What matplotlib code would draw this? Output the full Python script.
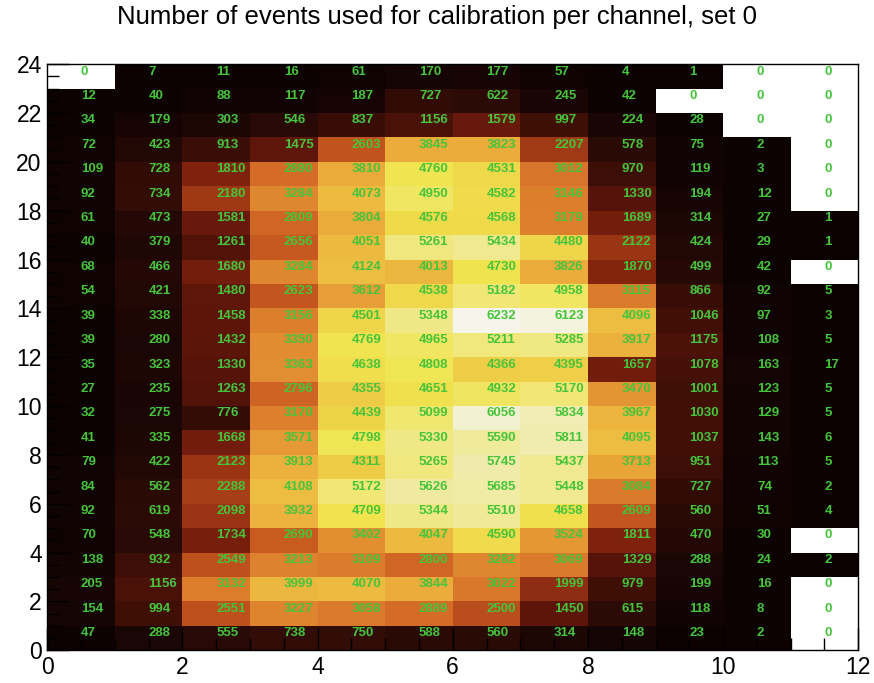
"""
Calibration event counts per channel, set 0 (ROOT-style COLZ TEXT heatmap).
"""
import matplotlib
matplotlib.use("Agg")
import matplotlib.pyplot as plt
import numpy as np
from matplotlib.colors import LinearSegmentedColormap
from matplotlib.ticker import MultipleLocator

plt.rcParams["font.family"] = ["Liberation Sans", "DejaVu Sans"]

title = "Number of events used for calibration per channel, set 0"

# rows listed from bottom (y = 0) to top (y = 23), 12 columns each
row_00 = [47, 288, 555, 738, 750, 588, 560, 314, 148, 23, 2, 0]
row_01 = [154, 994, 2551, 3227, 3058, 2889, 2500, 1450, 615, 118, 8, 0]
row_02 = [205, 1156, 3132, 3999, 4070, 3844, 3022, 1999, 979, 199, 16, 0]
row_03 = [138, 932, 2549, 3213, 3109, 2800, 3282, 3069, 1329, 288, 24, 2]
row_04 = [70, 548, 1734, 2690, 3402, 4047, 4590, 3524, 1811, 470, 30, 0]
row_05 = [92, 619, 2098, 3932, 4709, 5344, 5510, 4658, 2609, 560, 51, 4]
row_06 = [84, 562, 2288, 4108, 5172, 5626, 5685, 5448, 3084, 727, 74, 2]
row_07 = [79, 422, 2123, 3913, 4311, 5265, 5745, 5437, 3713, 951, 113, 5]
row_08 = [41, 335, 1668, 3571, 4798, 5330, 5590, 5811, 4095, 1037, 143, 6]
row_09 = [32, 275, 776, 3170, 4439, 5099, 6056, 5834, 3967, 1030, 129, 5]
row_10 = [27, 235, 1263, 2796, 4355, 4651, 4932, 5170, 3470, 1001, 123, 5]
row_11 = [35, 323, 1330, 3363, 4638, 4808, 4366, 4395, 1657, 1078, 163, 17]
row_12 = [39, 280, 1432, 3350, 4769, 4965, 5211, 5285, 3917, 1175, 108, 5]
row_13 = [39, 338, 1458, 3156, 4501, 5348, 6232, 6123, 4096, 1046, 97, 3]
row_14 = [54, 421, 1480, 2623, 3612, 4538, 5182, 4958, 3115, 866, 92, 5]
row_15 = [68, 466, 1680, 3284, 4124, 4013, 4730, 3826, 1870, 499, 42, 0]
row_16 = [40, 379, 1261, 2656, 4051, 5261, 5434, 4480, 2122, 424, 29, 1]
row_17 = [61, 473, 1581, 2809, 3804, 4576, 4568, 3179, 1689, 314, 27, 1]
row_18 = [92, 734, 2180, 3284, 4073, 4950, 4582, 3146, 1330, 194, 12, 0]
row_19 = [109, 728, 1810, 2880, 3810, 4760, 4531, 3012, 970, 119, 3, 0]
row_20 = [72, 423, 913, 1475, 2603, 3845, 3823, 2207, 578, 75, 2, 0]
row_21 = [34, 179, 303, 546, 837, 1156, 1579, 997, 224, 28, 0, 0]
row_22 = [12, 40, 88, 117, 187, 727, 622, 245, 42, 0, 0, 0]
row_23 = [0, 7, 11, 16, 61, 170, 177, 57, 4, 1, 0, 0]

counts = np.array([
    row_00, row_01, row_02, row_03, row_04, row_05, row_06, row_07,
    row_08, row_09, row_10, row_11, row_12, row_13, row_14, row_15,
    row_16, row_17, row_18, row_19, row_20, row_21, row_22, row_23,
])
n_rows, n_cols = counts.shape

# dark body radiator-like palette, tuned by eye to the reference
pal = [
    (0.00, (12, 2, 2)),
    (0.07, (35, 8, 5)),
    (0.15, (60, 14, 6)),
    (0.24, (97, 22, 10)),
    (0.30, (132, 36, 15)),
    (0.42, (195, 85, 30)),
    (0.47, (215, 112, 40)),
    (0.61, (235, 170, 58)),
    (0.76, (240, 228, 78)),
    (0.94, (240, 236, 180)),
    (1.00, (245, 245, 235)),
]
cmap = LinearSegmentedColormap.from_list(
    "darkbody", [(s, tuple(c / 255 for c in rgb)) for s, rgb in pal])
cmap.set_bad("white")

fig = plt.figure(figsize=(8.74, 6.83), dpi=100)
ax = fig.add_axes([0.054, 0.048, 0.928, 0.858])

masked = np.ma.masked_where(counts == 0, counts)
ax.pcolormesh(np.arange(n_cols + 1), np.arange(n_rows + 1), masked,
              cmap=cmap, vmin=0, vmax=counts.max())

for iy in range(n_rows):
    for ix in range(n_cols):
        ax.text(ix + 0.5, iy + 0.7, str(counts[iy, ix]), color="#46c43a",
                fontsize=9.5, fontweight="bold", ha="left", va="center")

ax.set_xlim(0, n_cols)
ax.set_ylim(0, n_rows)
ax.xaxis.set_major_locator(MultipleLocator(2))
ax.xaxis.set_minor_locator(MultipleLocator(0.5))
ax.yaxis.set_major_locator(MultipleLocator(2))
ax.yaxis.set_minor_locator(MultipleLocator(0.5))
ax.tick_params(which="both", direction="in", labelsize=16.5, pad=4)
ax.tick_params(which="major", length=16, width=1)
ax.tick_params(which="minor", length=8.5, width=1)
for sp in ax.spines.values():
    sp.set_linewidth(1)

fig.text(0.5, 0.993, title, ha="center", va="top", fontsize=18.5)

fig.savefig("out.png", dpi=100)
